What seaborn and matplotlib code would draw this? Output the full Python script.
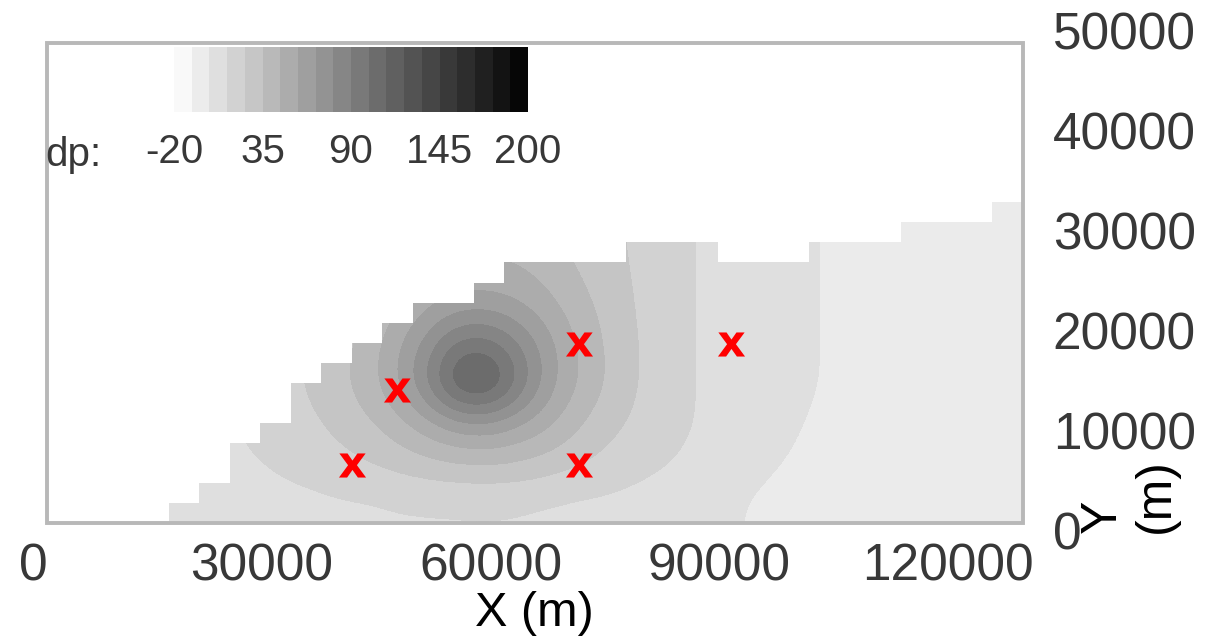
import numpy as np
import pandas as pd
import matplotlib
matplotlib.use("Agg")
import matplotlib.pyplot as plt
from matplotlib.colors import ListedColormap, Normalize
from matplotlib.patches import Rectangle
import seaborn as sns

sns.set_theme(style="white")
plt.rcParams["font.family"] = ["Liberation Sans", "DejaVu Sans"]
plt.rcParams["axes.unicode_minus"] = False

# ---- model grid: 32 x 24 cells of 4000 m x 2000 m ----
X_ORIGIN, Y_ORIGIN = 1800, 800
CELL_DX, CELL_DY = 4000, 2000
N_COLS, N_ROWS = 32, 24
# active cells per column, counted from the bottom of the grid
ACTIVE_ROWS = [0, 0, 0, 0, 1, 2, 4, 5, 7, 8, 9, 10, 11, 11, 12, 13,
               13, 13, 13, 14, 14, 14, 13, 13, 13, 14, 14, 14, 15, 15, 15, 16]

# ---- pressure change dp on 4000 m x 4000 m blocks (bottom block row first) ----
DP_BLOCK = 4000
DP_ROW_0 = [5, 5, 5, 6, 7, 8, 9, 10, 10, 11, 11, 12, 12, 12, 12, 12,
            11, 10, 10, 9, 8, 6, 3, 0, -2, -3, -3, -3, -3, -3, -3, -3]
DP_ROW_1 = [5, 5, 6, 7, 8, 10, 12, 14, 17, 20, 24, 28, 32, 35, 36, 34,
            30, 25, 20, 16, 13, 10, 7, 4, 1, -1, -2, -3, -3, -3, -3, -3]
DP_ROW_2 = [5, 6, 7, 8, 9, 11, 14, 17, 21, 27, 33, 42, 54, 64, 66, 58,
            48, 36, 27, 21, 16, 12, 9, 6, 3, 0, -2, -3, -3, -3, -3, -3]
DP_ROW_3 = [5, 6, 7, 8, 10, 12, 15, 19, 25, 32, 41, 58, 84, 122, 124, 92,
            62, 45, 33, 23, 16, 12, 9.5, 7, 4.5, 1.5, -1, -3, -3, -3, -3, -3]
DP_ROW_4 = [5, 6, 7, 8, 10, 12, 15, 19, 24, 30, 39, 55, 74, 95, 96, 80,
            60, 44, 32, 23, 16, 12, 9.5, 7, 4.5, 1.5, -1, -3, -3, -3, -3, -3]
DP_ROW_5 = [5, 6, 7, 8, 10, 12, 15, 19, 23, 28, 35, 43, 54, 60, 61, 56,
            48, 38, 30, 22, 16, 12, 9.5, 7, 4.5, 1.5, -1, -3, -3, -3, -3, -3]
DP_ROW_6 = [5, 6, 7, 8, 10, 12, 15, 18, 22, 27, 32, 37, 42, 45, 46, 45,
            40, 33, 28, 21, 16, 12, 9.5, 7, 4.5, 1.5, -1, -3, -3, -3, -3, -3]
DP_ROW_7 = [5, 6, 7, 8, 10, 12, 15, 18, 21, 25, 29, 33, 37, 39, 40, 39,
            35, 30, 26, 21, 16, 12, 9.5, 7, 4.5, 1.5, -1, -3, -3, -3, -3, -3]
DP_FIELD = [DP_ROW_0, DP_ROW_1, DP_ROW_2, DP_ROW_3,
            DP_ROW_4, DP_ROW_5, DP_ROW_6, DP_ROW_7]

# ---- observation wells ----
WELL_X = [47700, 71600, 41800, 71600, 91500]
WELL_Y = [14100, 18700, 6600, 6600, 18700]

# ---- colour scale and axes ----
DP_MIN, DP_MAX, DP_BANDS = -20, 200, 20
DP_TICKS = [-20, 35, 90, 145, 200]
X_TICKS = [0, 30000, 60000, 90000, 120000]
Y_TICKS = [0, 10000, 20000, 30000, 40000, 50000]
X_MAX, Y_MAX = 130120, 50000

W_PX, H_PX, DPI = 1209, 637, 100
TEXT_GRAY = "#383838"
fig = plt.figure(figsize=(W_PX / DPI, H_PX / DPI), dpi=DPI)
fig.patch.set_facecolor("white")

ax = fig.add_axes([33.5 / W_PX, (H_PX - 531) / H_PX,
                   (1025 - 33.5) / W_PX, (531 - 30.5) / H_PX])
ax.set_facecolor("white")

grays = 1.0 - (np.arange(DP_BANDS) + 0.5) / DP_BANDS
cmap = ListedColormap([(g, g, g) for g in grays])
norm = Normalize(vmin=DP_MIN, vmax=DP_MAX)

field = np.array(DP_FIELD, dtype=float)
n_brow, n_bcol = field.shape
im = ax.imshow(field, origin="lower", cmap=cmap, norm=norm,
               extent=(X_ORIGIN, X_ORIGIN + n_bcol * DP_BLOCK,
                       Y_ORIGIN, Y_ORIGIN + n_brow * DP_BLOCK),
               interpolation="bicubic", interpolation_stage="data",
               aspect="auto", zorder=1)

# inactive cells are blanked out
rows = np.arange(N_ROWS)[:, None]
inactive = rows >= np.array(ACTIVE_ROWS)[None, :]
overlay = np.zeros((N_ROWS, N_COLS, 4))
overlay[inactive] = (1, 1, 1, 1)
ax.imshow(overlay, origin="lower",
          extent=(X_ORIGIN, X_ORIGIN + N_COLS * CELL_DX,
                  Y_ORIGIN, Y_ORIGIN + N_ROWS * CELL_DY),
          interpolation="nearest", aspect="auto", zorder=2)

# model boundary
ax.add_patch(Rectangle((X_ORIGIN, Y_ORIGIN), N_COLS * CELL_DX, N_ROWS * CELL_DY,
                       fill=False, ec="#b8b8b8", lw=2.8, zorder=4, clip_on=False))

wells = pd.DataFrame({"x": WELL_X, "y": WELL_Y})
sns.scatterplot(data=wells, x="x", y="y", ax=ax, marker=r"$\mathbf{x}$",
                s=380, color="red", linewidth=0, zorder=5, legend=False)

ax.set_xlim(0, X_MAX)
ax.set_ylim(0, Y_MAX)
ax.set_xticks(X_TICKS)
ax.set_yticks(Y_TICKS)
ax.set_xticklabels([str(v) for v in X_TICKS])
ax.set_yticklabels([str(v) for v in Y_TICKS])
ax.yaxis.tick_right()
ax.tick_params(axis="x", length=0, pad=8.5, labelsize=37, colors=TEXT_GRAY)
ax.tick_params(axis="y", length=0, pad=20, labelsize=37, colors=TEXT_GRAY)
ax.set_xlabel("")
ax.set_ylabel("")
for sp in ax.spines.values():
    sp.set_visible(False)
ax.grid(False)

# colour bar inside the plot area
cax = fig.add_axes([174 / W_PX, (H_PX - 112) / H_PX, 354 / W_PX, 65 / H_PX])
cb = fig.colorbar(im, cax=cax, orientation="horizontal", ticks=DP_TICKS)
cb.outline.set_visible(False)
cb.set_ticklabels([str(v) for v in DP_TICKS])
cax.tick_params(length=0, pad=15, labelsize=29, colors=TEXT_GRAY)
fig.text(45 / W_PX, 1 - 166 / H_PX, "dp:", ha="left", va="baseline",
         fontsize=29, color=TEXT_GRAY)

fig.text(534 / W_PX, 1 - 626 / H_PX, "X (m)", ha="center", va="baseline",
         fontsize=35, color="black")
fig.text(1080 / W_PX, 1 - 533 / H_PX, "Y\n(m)", rotation=90, ha="left",
         va="bottom", multialignment="left", fontsize=36, color="black")

fig.savefig("out.png", dpi=DPI, facecolor="white")
